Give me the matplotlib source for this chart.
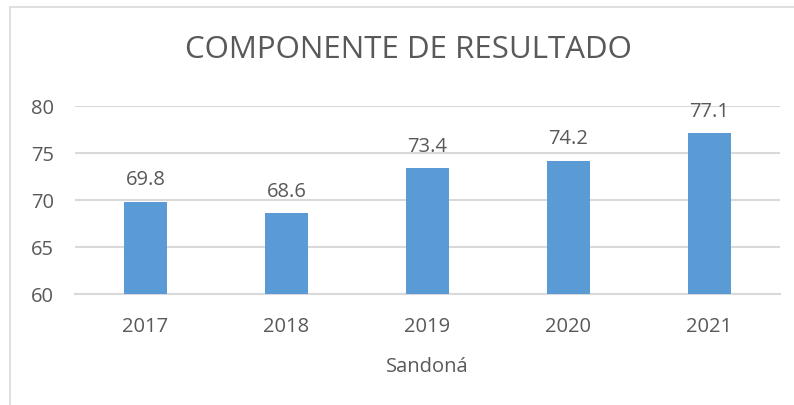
import matplotlib.pyplot as plt
from matplotlib.patches import Rectangle

years = ["2017", "2018", "2019", "2020", "2021"]
values = [69.8, 68.6, 73.4, 74.2, 77.1]
yticks = [60, 65, 70, 75, 80]

text_color = "#595959"
grid_color = "#d9d9d9"
bar_color = "#5b9bd5"

plt.rcParams["font.family"] = ["Open Sans", "DejaVu Sans"]

fig = plt.figure(figsize=(7.94, 4.06), dpi=100)
fig.patch.set_facecolor("white")

# chart frame
fig.patches.append(Rectangle((10 / 794, -0.1), 1.2, 1 - 8 / 406 + 0.1,
                             transform=fig.transFigure, fill=False,
                             edgecolor=grid_color, linewidth=1.2))

ax = fig.add_axes([75 / 794, 1 - 295 / 406, 705 / 794, 188 / 406])
x = range(len(years))
bars = ax.bar(x, values, width=0.31, color=bar_color, zorder=3)

ax.set_ylim(60, 80)
ax.set_xlim(-0.5, len(years) - 0.5)
ax.set_yticks(yticks)
ax.set_xticks(list(x))
ax.set_xticklabels(years)
ax.yaxis.grid(True, color=grid_color, linewidth=1.5, zorder=0)
ax.set_axisbelow(True)
for s in ["top", "right", "left"]:
    ax.spines[s].set_visible(False)
ax.spines["bottom"].set_color(grid_color)
ax.spines["bottom"].set_linewidth(1.5)
ax.tick_params(axis="both", length=0, labelsize=14.5, labelcolor=text_color)
ax.tick_params(axis="x", pad=16)
ax.tick_params(axis="y", pad=15)

for b, v in zip(bars, values):
    ax.annotate(f"{v}", (b.get_x() + b.get_width() / 2, v),
                xytext=(0, 9), textcoords="offset points",
                ha="center", va="bottom", fontsize=14.5, color=text_color)

ax.set_xlabel("Sandoná", fontsize=14.5, color=text_color, labelpad=14)

fig.text(408 / 794, 1 - 50 / 406, "COMPONENTE DE RESULTADO",
         ha="center", va="center", fontsize=22.5, color=text_color)

fig.savefig("out.png", dpi=100)
